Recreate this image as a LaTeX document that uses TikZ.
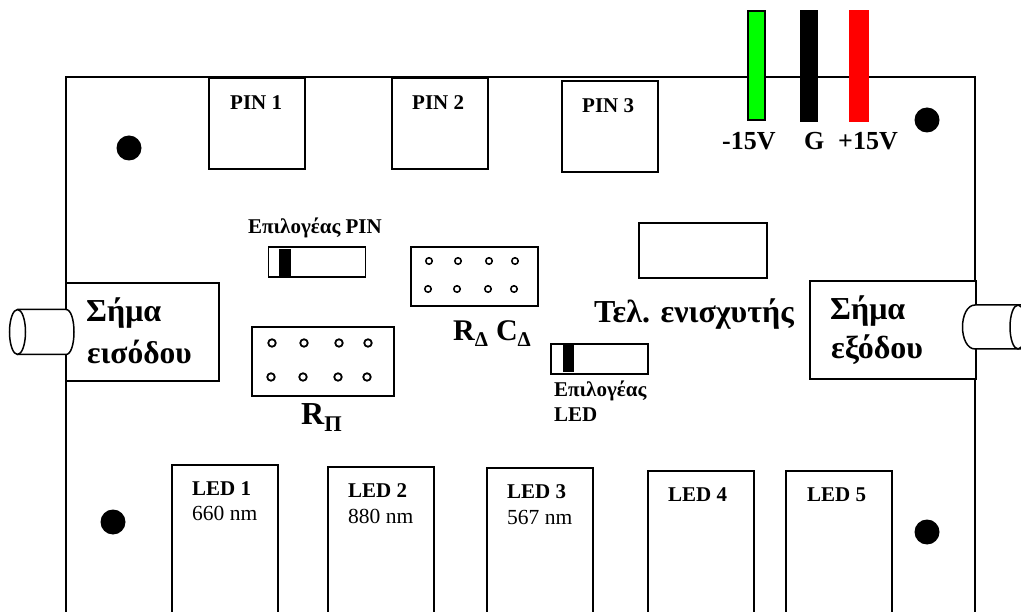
\documentclass[tikz,border=0pt]{standalone}
\usepackage{fontspec}
\setmainfont{Liberation Serif}
\newcommand{\fs}[1]{\fontsize{#1}{#1}\selectfont}
\tikzset{
 box/.style={draw=black,line width=1.8pt,fill=white,inner sep=0pt,xshift=-1pt,yshift=1pt},
 lab/.style={inner sep=0pt,font=\bfseries,anchor=base west,align=left},
 hole/.style={circle,draw=black,line width=1.8pt,fill=white,minimum size=7.5pt,inner sep=0pt},
 screw/.style={circle,fill=black,minimum size=25pt,inner sep=0pt},
 slider/.style={fill=black,inner sep=0pt}
}
\begin{document}
\begin{tikzpicture}[x=1pt,y=-1pt]
\useasboundingbox (0,0) rectangle (1021,612);
\begin{scope}
\clip (0,0) rectangle (1021,612);
\draw[line width=2pt,fill=white] (66,640) -- (66,77.5) -- (975,77.5) -- (975,640);
% PINs
\node[box,minimum width=96pt,minimum height=91pt,anchor=north west] (pina) at (209,78) {};
\node[box,minimum width=96pt,minimum height=91pt,anchor=north west] (pinb) at (392,78) {};
\node[box,minimum width=96pt,minimum height=91pt,anchor=north west] (pinc) at (562,81) {};
\node[lab,font=\bfseries\fs{21}] (pinat) at (230,110) {PIN 1};
\node[lab,font=\bfseries\fs{21}] (pinbt) at (412,110) {PIN 2};
\node[lab,font=\bfseries\fs{21}] (pinct) at (582,113) {PIN 3};
% screws
\node[screw] (s1) at (129,148) {};
\node[screw] (s2) at (927,120) {};
\node[screw] (s3) at (113,522) {};
\node[screw] (s4) at (927,532) {};
% wires
\node[box,fill=green,minimum width=17pt,minimum height=109pt,anchor=north west] (wg) at (748,11) {};
\node[fill=black,inner sep=0pt,minimum width=18pt,minimum height=112pt,anchor=north west] (wb) at (799.5,10) {};
\node[fill=red,inner sep=0pt,minimum width=20pt,minimum height=112pt,anchor=north west] (wr) at (849,10) {};
\node[lab,font=\bfseries\fs{26}] (vm) at (722,150) {-15V};
\node[lab,font=\bfseries\fs{26}] (vg) at (804,150) {G};
\node[lab,font=\bfseries\fs{26}] (vp) at (838,150) {+15V};
% pin selector
\node[lab,font=\bfseries\fs{21}] (selp) at (248,234) {Επιλογέας PIN};
\node[box,minimum width=97pt,minimum height=30pt,anchor=north west] (selpb) at (268.5,247) {};
\node[slider,minimum width=12pt,minimum height=27pt,anchor=north west] (selps) at (279,249) {};
% input
\node[box,minimum width=153pt,minimum height=98pt,anchor=north west] (inb) at (66,283) {};
\node[lab,font=\bfseries\fs{32}] (inta) at (86,322) {Σήμα};
\node[lab,font=\bfseries\fs{31.5}] (intb) at (87,364) {εισόδου};
\draw[line width=1.5pt,fill=white] (17.5,309.5) -- (66,309.5) .. controls (71,309.5) and (74,320) .. (74,332) .. controls (74,344) and (71,354.5) .. (66,354.5) -- (17.5,354.5);
\draw[line width=1.5pt,fill=white] (17.5,332) ellipse [x radius=8pt,y radius=22.5pt];
% R_pi
\node[box,minimum width=142pt,minimum height=69pt,anchor=north west] (rp) at (252,327) {};
\foreach \n/\x/\y in {a/272/343,b/304/343,c/339/343,d/368/343,e/271/377,f/303/377,g/338/377,h/367/377}
  \node[hole] (rp\n) at (\x,\y) {};
\node[lab,font=\bfseries\fs{32}] (rpt) at (301,425) {R\textsubscript{Π}};
% R_d C_d
\node[box,minimum width=127pt,minimum height=59pt,anchor=north west] (rd) at (411,247) {};
\foreach \n/\x/\y in {a/429/261,b/458/261,c/489/261,d/515/261,e/428/289,f/457/289,g/488/289,h/514/289}
  \node[hole,minimum size=6.5pt,line width=1.5pt] (rd\n) at (\x,\y) {};
\node[lab,font=\bfseries\fs{30}] (rdt) at (453,341) {R\textsubscript{Δ} C\textsubscript{Δ}};
% amp
\node[box,minimum width=128pt,minimum height=55pt,anchor=north west] (amp) at (639,223) {};
\node[lab,font=\bfseries\fs{32}] (ampt) at (594,323) {Τελ. ενισχυτής};
% LED selector
\node[box,minimum width=97pt,minimum height=30pt,anchor=north west] (sellb) at (551,344) {};
\node[slider,minimum width=11pt,minimum height=27pt,anchor=north west] (sells) at (563,345) {};
\node[lab,font=\bfseries\fs{21}] (selta) at (554,397) {Επιλογέας};
\node[lab,font=\bfseries\fs{21}] (seltb) at (554,421) {LED};
% output
\node[box,minimum width=166pt,minimum height=98pt,anchor=north west] (outb) at (810,281) {};
\node[lab,font=\bfseries\fs{32}] (outa) at (830,320) {Σήμα};
\node[lab,font=\bfseries\fs{32}] (outb2) at (831,359) {εξόδου};
\draw[line width=1.5pt,fill=white] (1040,305) -- (975,305) .. controls (967,305) and (962.5,316) .. (962.5,327) .. controls (962.5,338) and (967,349) .. (975,349) -- (1040,349);
\draw[line width=1.5pt] (1018,327) ellipse [x radius=8pt,y radius=22pt];
% LEDs
\node[box,minimum width=106pt,minimum height=170pt,anchor=north west] (la) at (172,465) {};
\node[box,minimum width=106pt,minimum height=170pt,anchor=north west] (lb) at (328,467) {};
\node[box,minimum width=106pt,minimum height=170pt,anchor=north west] (lc) at (487,468) {};
\node[box,minimum width=106pt,minimum height=170pt,anchor=north west] (ld) at (648,471) {};
\node[box,minimum width=106pt,minimum height=170pt,anchor=north west] (le) at (786,471) {};
\node[lab,font=\bfseries\fs{21}] (lat) at (192,496) {LED 1};
\node[lab,font=\bfseries\fs{21}] (lbt) at (348,497) {LED 2};
\node[lab,font=\bfseries\fs{21}] (lct) at (507,498) {LED 3};
\node[lab,font=\bfseries\fs{21}] (ldt) at (668,501) {LED 4};
\node[lab,font=\bfseries\fs{21}] (let) at (807,501) {LED 5};
\node[lab,font=\fs{21.5}] (lan) at (192,520) {660 nm};
\node[lab,font=\fs{21.5}] (lbn) at (348,523) {880 nm};
\node[lab,font=\fs{21.5}] (lcn) at (507,524) {567 nm};
\end{scope}
\end{tikzpicture}
\end{document}
